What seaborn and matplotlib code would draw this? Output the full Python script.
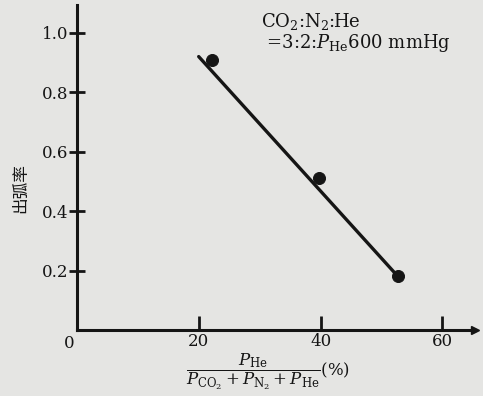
import numpy as np
import pandas as pd
import matplotlib
matplotlib.use("Agg")
import matplotlib.pyplot as plt
import seaborn as sns

# data
he_pct = [22.2, 39.8, 52.7]
arc_rate = [0.91, 0.51, 0.18]
fit_x = [20.0, 52.7]
fit_y = [0.92, 0.18]
x_ticks = [20, 40, 60]
y_ticks = [0.2, 0.4, 0.6, 0.8, 1.0]
y_tick_labels = ["0.2", "0.4", "0.6", "0.8", "1.0"]

df = pd.DataFrame({"he": he_pct, "rate": arc_rate})
fit = pd.DataFrame({"he": fit_x, "rate": fit_y})

sns.set_style("white")
plt.rcParams["font.family"] = ["DejaVu Serif", "Noto Sans CJK SC"]
plt.rcParams["mathtext.fontset"] = "dejavuserif"

bg = "#e5e5e3"
ink = "#151515"

fig = plt.figure(figsize=(4.83, 3.96), dpi=100, facecolor=bg)
ax = fig.add_axes([0.159, 0.1667, 0.824, 0.821])
ax.set_facecolor(bg)

sns.lineplot(data=fit, x="he", y="rate", ax=ax, color=ink, linewidth=2.4)
sns.scatterplot(data=df, x="he", y="rate", ax=ax, color=ink, s=75,
                edgecolor=ink, zorder=5)

ax.set_xlim(0, 65.3)
ax.set_ylim(0, 1.094)

for s in ["top", "right"]:
    ax.spines[s].set_visible(False)
for s in ["left", "bottom"]:
    ax.spines[s].set_color(ink)
    ax.spines[s].set_linewidth(2.2)

# arrow at the end of x axis
ax.plot([65.3], [0], marker=">", color=ink, markersize=6, clip_on=False)

ax.set_xticks(x_ticks)
ax.set_yticks(y_ticks)
ax.set_yticklabels(y_tick_labels)
ax.tick_params(axis="both", width=2.0, bottom=True, left=True,
               color=ink, labelcolor=ink, labelsize=12)
ax.tick_params(axis="x", direction="in", length=10, pad=2)
ax.tick_params(axis="y", direction="inout", length=12, pad=0)

ax.text(-1.2, -0.018, "0", ha="center", va="top", fontsize=12, color=ink)

ax.set_xlabel("")
ax.set_ylabel("")

fig.text(0.042, 0.525, "出弧率", rotation=90, ha="center", va="center",
         fontsize=12, color=ink, family=["Noto Sans CJK SC", "DejaVu Sans"])

ax.text(30.3, 1.075,
        "CO$_2$:N$_2$:He\n =3:2:$P_{\\rm He}$600 mmHg",
        ha="left", va="top", fontsize=13, color=ink, linespacing=1.0)

fig.text(0.555, 0.062,
         r"$\dfrac{P_{\rm He}}{P_{\rm CO_2}+P_{\rm N_2}+P_{\rm He}}$(%)",
         ha="center", va="center", fontsize=12, color=ink)

fig.savefig("out.png", dpi=100, facecolor=bg)
